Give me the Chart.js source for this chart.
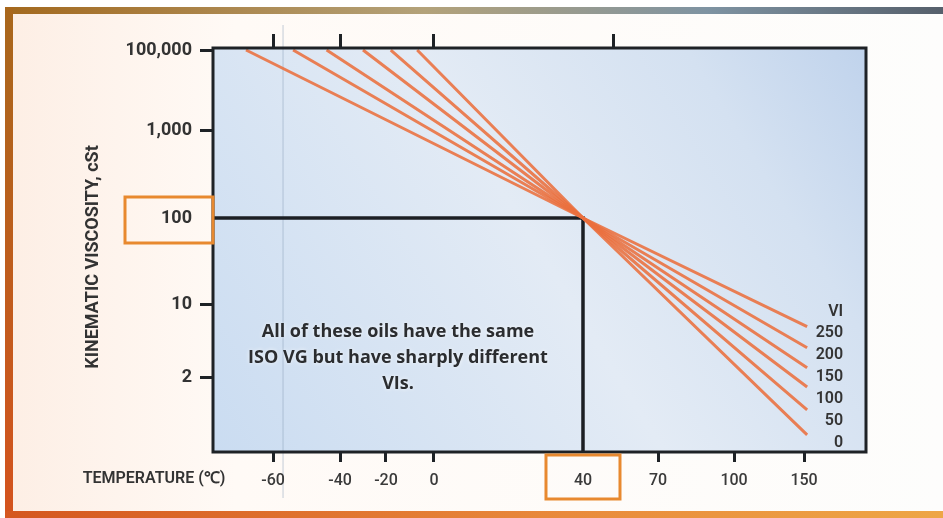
<!DOCTYPE html>
<html lang="en">
<head>
  <meta charset="UTF-8">
  <title>Kinematic viscosity vs temperature</title>
  <style>
    html, body { margin: 0; padding: 0; background: #fff; overflow: hidden; }
    .wrap { width: 943px; height: 518px; }
  </style>
</head>
<body>
  <div class="wrap"><canvas id="chart" width="943" height="518"></canvas></div>
  <script src="https://cdn.jsdelivr.net/npm/chart.js@4"></script>
  <script>
    // --- data ---
    const viLabels = ['250', '200', '150', '100', '50', '0'];
    const coldTemps = [-69, -54, -44, -30, -18, -7];      // °C where each oil hits 100,000 cSt
    const hotViscs = [6.2, 3.9, 2.5, 1.64, 0.99, 0.57];    // cSt at the hot end
    const coldVisc = 100000;
    const hotTemp = 152;
    const refTemp = 40;     // ISO VG reference point
    const refVisc = 100;

    const tempTicks = [-60, -40, -20, 0, 40, 70, 100, 150];
    const topTicks = [-60, -40, 0, 52];
    const viscTicks = [2, 10, 100, 1000, 100000];

    // the drawing's axes are not uniform, so each axis is a piecewise scale
    const tempKnots = [-80, -60, -40, -20, 0, 40, 70, 100, 150, 190];
    const tempKnotPos = [0, 0.0919, 0.1945, 0.2649, 0.3384, 0.5666, 0.6815, 0.7979, 0.9051, 1];
    const viscKnots = [0.39, 2, 10, 100, 1000, 100000, 112000];
    const viscKnotPos = [0, 0.1832, 0.3639, 0.5792, 0.797, 0.995, 1];

    const tempMin = tempKnots[0], tempMax = tempKnots[tempKnots.length - 1];
    const viscMin = viscKnots[0], viscMax = viscKnots[viscKnots.length - 1];

    const WARP = {
      x:    { knots: tempKnots, pos: tempKnotPos, log: false, ticks: tempTicks },
      xTop: { knots: tempKnots, pos: tempKnotPos, log: false, ticks: topTicks },
      y:    { knots: viscKnots, pos: viscKnotPos, log: true,  ticks: viscTicks }
    };

    function interp(v, xs, ys) {
      let i = 0;
      while (i < xs.length - 2 && v > xs[i + 1]) i++;
      return ys[i] + (v - xs[i]) / (xs[i + 1] - xs[i]) * (ys[i + 1] - ys[i]);
    }

    class WarpScale extends Chart.LinearScale {
      static id = 'warp';
      static defaults = Chart.LinearScale.defaults;
      buildTicks() {
        return WARP[this.id].ticks.map(v => ({ value: v }));
      }
      getPixelForValue(value) {
        if (value === null || value === undefined) return NaN;
        const c = WARP[this.id];
        const f = c.log ? Math.log10 : (a => a);
        return this.getPixelForDecimal(interp(f(value), c.knots.map(f), c.pos));
      }
      getValueForPixel(pixel) {
        const c = WARP[this.id];
        const f = c.log ? Math.log10 : (a => a);
        const v = interp(this.getDecimalForPixel(pixel), c.pos, c.knots.map(f));
        return c.log ? Math.pow(10, v) : v;
      }
    }
    Chart.register(WarpScale);

    const lineColor = 'rgba(234, 112, 62, 0.88)';

    const datasets = viLabels.map((vi, i) => ({
      label: 'VI ' + vi,
      data: [
        { x: coldTemps[i], y: coldVisc },
        { x: refTemp, y: refVisc },
        { x: hotTemp, y: hotViscs[i] }
      ],
      borderColor: lineColor,
      borderWidth: 3,
      pointRadius: 0,
      tension: 0
    }));

    // black guide lines to the reference point
    datasets.push({
      label: 'ref',
      data: [
        { x: tempMin, y: refVisc },
        { x: refTemp, y: refVisc },
        { x: refTemp, y: viscMin }
      ],
      borderColor: '#1c1f24',
      borderWidth: 3.5,
      pointRadius: 0,
      tension: 0
    });

    const FONT = "Roboto, 'Liberation Sans', sans-serif";

    const decor = {
      id: 'decor',
      beforeDraw(chart) {
        const { ctx, chartArea: a } = chart;
        const W = chart.width, H = chart.height;
        ctx.save();
        // page
        const pg = ctx.createLinearGradient(0, 0, W, 0);
        pg.addColorStop(0, '#fdeee4');
        pg.addColorStop(0.25, '#fffaf6');
        pg.addColorStop(1, '#fdfdfc');
        ctx.fillStyle = pg;
        ctx.fillRect(0, 0, W, H);
        ctx.fillStyle = '#ffffff';
        ctx.fillRect(0, 0, W, 7);
        ctx.fillRect(0, 0, 5, H);
        // frame bands
        const top = ctx.createLinearGradient(0, 0, W, 0);
        top.addColorStop(0, '#a3681c');
        top.addColorStop(0.45, '#b3a27a');
        top.addColorStop(0.75, '#7e93a2');
        top.addColorStop(1, '#56606c');
        ctx.fillStyle = top;
        ctx.fillRect(5, 7, W - 5, 7);
        const left = ctx.createLinearGradient(0, 7, 0, H);
        left.addColorStop(0, '#a8671c');
        left.addColorStop(1, '#d4531e');
        ctx.fillStyle = left;
        ctx.fillRect(5, 7, 8, H - 7);
        const bot = ctx.createLinearGradient(0, 0, W, 0);
        bot.addColorStop(0, '#d4561f');
        bot.addColorStop(0.6, '#e98a3c');
        bot.addColorStop(1, '#eea646');
        ctx.fillStyle = bot;
        ctx.fillRect(5, 511, W - 5, 7);
        // plot background
        const bg = ctx.createLinearGradient(a.left, a.bottom, a.right, a.top);
        bg.addColorStop(0, '#cadcf1');
        bg.addColorStop(0.5, '#e3ebf5');
        bg.addColorStop(0.8, '#d4e1f1');
        bg.addColorStop(1, '#c0d3ec');
        ctx.fillStyle = bg;
        ctx.fillRect(a.left, a.top, a.right - a.left, a.bottom - a.top);
        // faint vertical artefact line
        const gx = chart.scales.x.getPixelForValue(-57);
        ctx.strokeStyle = 'rgba(140, 160, 185, 0.35)';
        ctx.lineWidth = 1.5;
        ctx.beginPath();
        ctx.moveTo(gx, 25);
        ctx.lineTo(gx, 498);
        ctx.stroke();
        ctx.restore();
      },
      afterDatasetsDraw(chart) {
        const { ctx, chartArea: a, scales } = chart;
        const xs = scales.x, ys = scales.y;
        ctx.save();
        // plot frame
        ctx.strokeStyle = '#1e2226';
        ctx.lineWidth = 3;
        ctx.strokeRect(a.left, a.top, a.right - a.left, a.bottom - a.top);

        // orange boxes round the reference labels
        ctx.strokeStyle = '#e8892f';
        ctx.lineWidth = 3;
        const yRef = ys.getPixelForValue(refVisc);
        ctx.strokeRect(125, yRef - 21, a.left - 125, 46);
        const xRef = xs.getPixelForValue(refTemp);
        ctx.strokeRect(xRef - 37, a.bottom + 3, 74, 44);

        // note inside the plot
        ctx.fillStyle = '#2b2d30';
        ctx.font = "700 18px 'Open Sans', sans-serif";
        ctx.textAlign = 'center';
        ctx.textBaseline = 'middle';
        ctx.shadowColor = 'rgba(255,255,255,0.8)';
        ctx.shadowBlur = 4;
        const cx = (a.left + xRef) / 2;
        const ty = ys.getPixelForValue(10) + 27;
        ['All of these oils have the same', 'ISO VG but have sharply different', 'VIs.']
          .forEach((t, i) => ctx.fillText(t, cx, ty + i * 26));
        ctx.shadowBlur = 0;

        // VI labels at the hot end
        ctx.fillStyle = '#333';
        ctx.font = '600 16px ' + FONT;
        ctx.textAlign = 'right';
        const lx = xs.getPixelForValue(hotTemp) + 36;
        const ly = ys.getPixelForValue(hotViscs[0]) + 6;
        ctx.fillText('VI', lx, ly - 21);
        viLabels.forEach((t, i) => ctx.fillText(t, lx, ly + i * 22));
        ctx.restore();
      },
      afterDraw(chart) {
        const { ctx, chartArea: a } = chart;
        ctx.save();
        ctx.fillStyle = '#333';
        ctx.textAlign = 'center';
        ctx.textBaseline = 'middle';
        ctx.font = '600 16px ' + FONT;
        ctx.fillText('TEMPERATURE (\u2103)', 154, a.bottom + 27);
        ctx.translate(93, 257);
        ctx.rotate(-Math.PI / 2);
        ctx.font = '700 18px ' + FONT;
        ctx.fillText('KINEMATIC VISCOSITY, cSt', 0, 0);
        ctx.restore();
      }
    };

    const tickColor = skip => c => (c.tick && c.tick.value === skip ? 'rgba(0,0,0,0)' : '#1e2226');

    new Chart(document.getElementById('chart'), {
      type: 'line',
      data: { datasets },
      plugins: [decor],
      options: {
        responsive: false,
        animation: false,
        layout: { padding: { top: 0, right: 77, bottom: 0, left: 0 } },
        plugins: { legend: { display: false }, tooltip: { enabled: false } },
        scales: {
          x: {
            type: 'warp', position: 'bottom', min: tempMin, max: tempMax,
            afterFit: s => { s.height = 66; },
            border: { display: false },
            grid: { drawOnChartArea: false, drawTicks: true, tickLength: 10, lineWidth: 3, color: tickColor(refTemp) },
            ticks: { autoSkip: false, maxRotation: 0, padding: 9, color: '#3a3a3a',
                     font: { family: FONT, size: 16, weight: '500' }, callback: v => String(v) }
          },
          xTop: {
            type: 'warp', axis: 'x', position: 'top', min: tempMin, max: tempMax,
            afterFit: s => { s.height = 48; },
            border: { display: false },
            grid: { drawOnChartArea: false, drawTicks: true, tickLength: 14, lineWidth: 3, color: '#1e2226' },
            ticks: { display: false, autoSkip: false }
          },
          y: {
            type: 'warp', position: 'left', min: viscMin, max: viscMax,
            afterFit: s => { s.width = 213; },
            border: { display: false },
            grid: { drawOnChartArea: false, drawTicks: true, tickLength: 13, lineWidth: 3, color: tickColor(refVisc) },
            ticks: { autoSkip: false, padding: 8, color: '#333',
                     font: { family: FONT, size: 18, weight: '700' },
                     callback: v => Number(v).toLocaleString('en-US') }
          }
        }
      }
    });
  </script>
</body>
</html>
